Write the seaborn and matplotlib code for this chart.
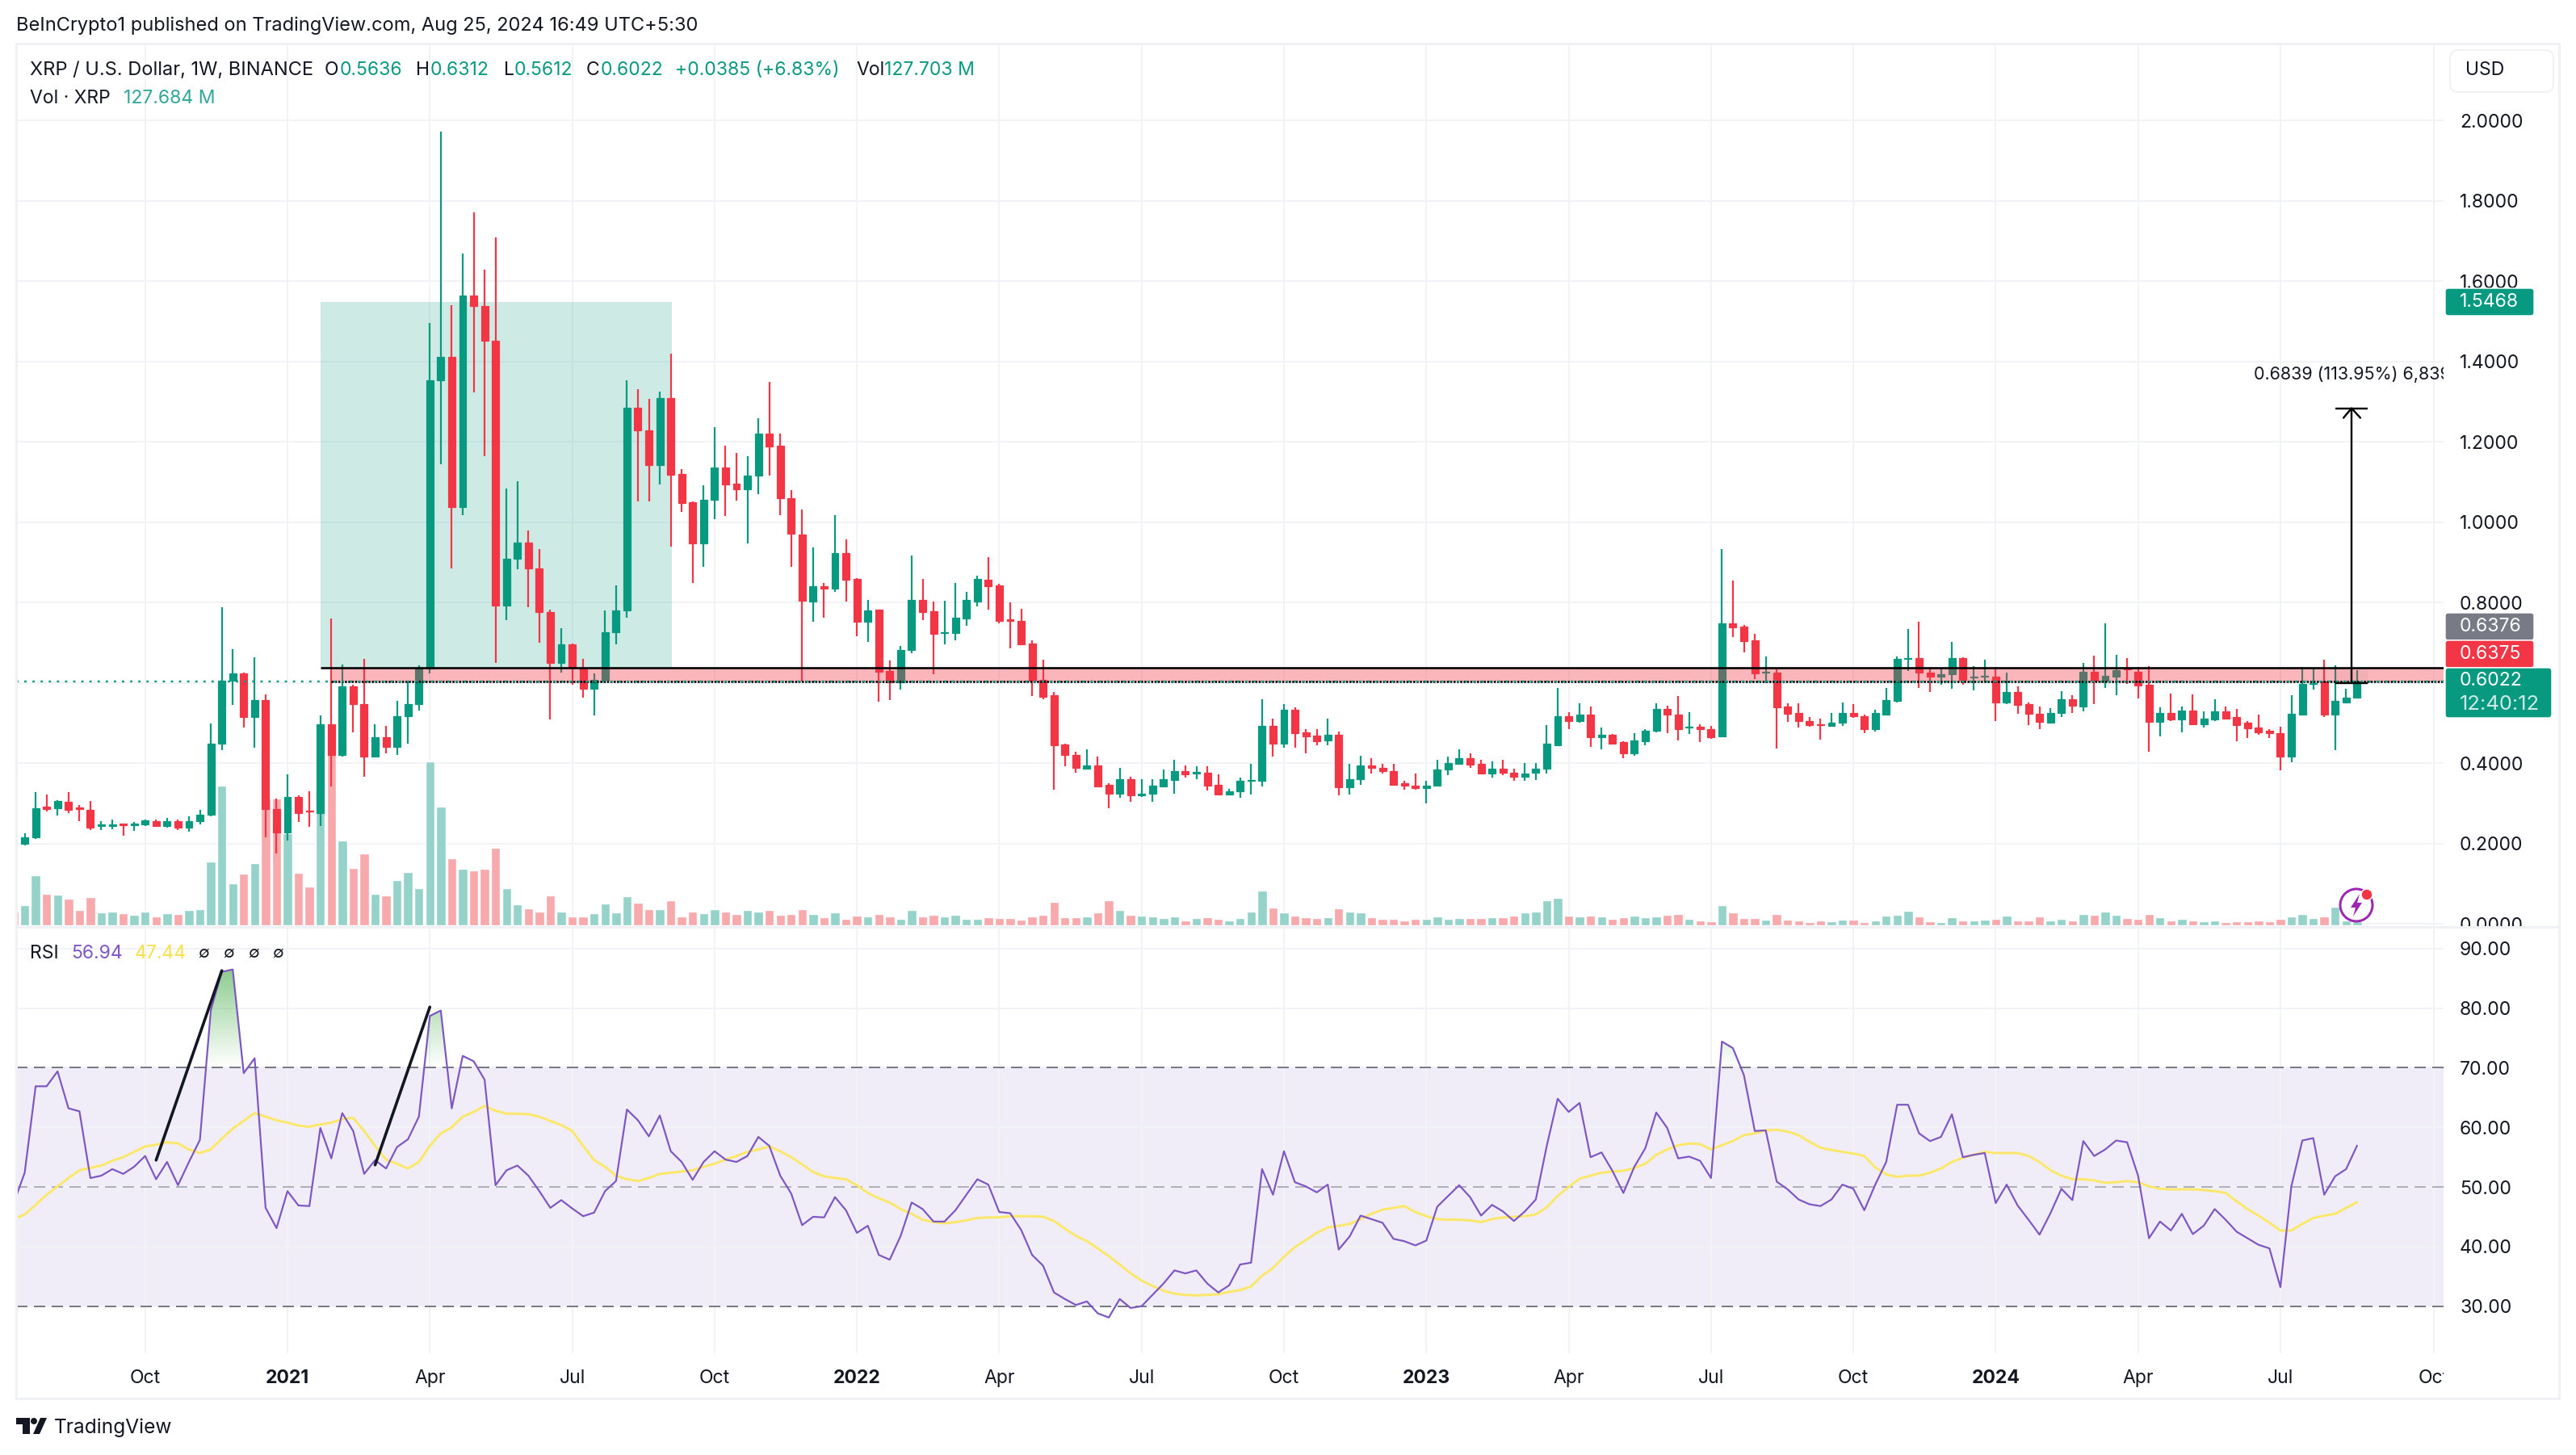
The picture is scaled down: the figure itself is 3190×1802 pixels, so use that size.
#!/usr/bin/env python3
# XRP / USD weekly chart with volume and RSI panes
import numpy as np
import pandas as pd
import matplotlib.pyplot as plt
import seaborn as sns
from matplotlib.patches import Rectangle, FancyBboxPatch, Polygon, Circle
from matplotlib.lines import Line2D
from matplotlib.path import Path
from matplotlib.transforms import IdentityTransform

#%% data
opens = [.207, .200, .215, .292, .288, .304, .289, .283, .243, .243,
    .249, .245, .248, .256, .243, .256, .240, .255, .271, .448,
    .605, .623, .515, .556, .285, .227, .315, .281, .275, .496,
    .420, .592, .547, .417, .465, .440, .516, .547, .635, 1.352,
    1.412, 1.037, 1.563, 1.537, 1.452, .792, .909, .949, .884, .775,
    .649, .696, .637, .585, .608, .725, .779, 1.285, 1.228, 1.141,
    1.309, 1.120, 1.049, .947, 1.056, 1.136, 1.096, 1.081, 1.115, 1.221,
    1.189, 1.059, .969, .803, .841, .834, .922, .859, .751, .781,
    .630, .601, .682, .807, .777, .723, .723, .759, .803, .857,
    .843, .757, .753, .698, .607, .568, .447, .421, .386, .395,
    .345, .324, .359, .319, .324, .341, .357, .379, .374, .375,
    .345, .321, .330, .355, .355, .492, .448, .532, .477, .469,
    .457, .471, .339, .359, .395, .388, .380, .350, .344, .337,
    .343, .384, .399, .413, .399, .373, .386, .376, .365, .375,
    .385, .445, .517, .504, .521, .464, .471, .452, .424, .455,
    .481, .535, .521, .488, .491, .485, .467, .747, .739, .705,
    .625, .626, .540, .524, .505, .497, .492, .500, .525, .517,
    .485, .520, .554, .659, .662, .626, .615, .622, .662, .614,
    .615, .616, .550, .576, .546, .523, .501, .524, .558, .540,
    .627, .606, .616, .636, .628, .596, .502, .525, .508, .530,
    .497, .508, .528, .514, .500, .489, .480, .475, .417, .520,
    .597, .603, .521, .551, .5636]
highs = [.208, .225, .328, .321, .308, .328, .296, .305, .256, .259,
    .250, .253, .260, .259, .264, .259, .268, .283, .499, .787,
    .684, .625, .664, .571, .312, .372, .319, .329, .519, .759,
    .645, .595, .660, .496, .493, .555, .605, .643, 1.496, 1.971,
    1.539, 1.669, 1.771, 1.629, 1.709, 1.083, 1.101, .979, .932, .781,
    .736, .698, .659, .624, .779, .843, 1.352, 1.331, 1.307, 1.325,
    1.419, 1.131, 1.052, 1.092, 1.237, 1.189, 1.172, 1.163, 1.259, 1.349,
    1.221, 1.079, 1.032, .936, .849, 1.018, .956, .861, .807, .782,
    .655, .692, .916, .859, .803, .805, .849, .827, .867, .913,
    .846, .801, .783, .706, .658, .577, .448, .429, .434, .417,
    .350, .387, .366, .359, .360, .383, .409, .395, .393, .393,
    .371, .335, .363, .399, .558, .510, .547, .538, .484, .484,
    .510, .479, .398, .419, .412, .398, .398, .356, .373, .355,
    .409, .416, .434, .424, .409, .405, .409, .385, .401, .401,
    .494, .586, .527, .548, .540, .488, .472, .455, .475, .485,
    .548, .543, .566, .527, .497, .493, .933, .854, .743, .721,
    .666, .636, .548, .549, .514, .510, .525, .550, .547, .521,
    .533, .586, .665, .733, .751, .637, .635, .701, .663, .642,
    .658, .639, .625, .590, .550, .540, .536, .579, .569, .650,
    .668, .748, .669, .662, .639, .642, .538, .572, .541, .570,
    .529, .558, .541, .534, .505, .520, .484, .490, .569, .639,
    .636, .658, .644, .584, .6312]
lows = [.203, .195, .211, .279, .269, .275, .256, .233, .233, .236,
    .219, .231, .244, .241, .240, .233, .229, .248, .268, .432,
    .544, .488, .439, .216, .175, .208, .253, .241, .244, .341,
    .416, .476, .365, .415, .424, .420, .448, .531, .623, 1.143,
    .885, 1.017, 1.323, 1.163, .649, .756, .883, .788, .699, .509,
    .625, .595, .563, .519, .599, .696, .761, 1.052, 1.052, 1.093,
    .939, 1.025, .848, .888, 1.008, 1.016, 1.053, .947, 1.069, 1.116,
    1.017, .888, .603, .751, .761, .826, .803, .716, .701, .552,
    .556, .583, .673, .755, .622, .696, .705, .741, .789, .782,
    .747, .685, .695, .567, .558, .333, .391, .375, .383, .339,
    .287, .314, .304, .316, .303, .340, .324, .363, .359, .332,
    .321, .320, .313, .321, .341, .416, .438, .439, .424, .444,
    .445, .319, .321, .345, .373, .373, .345, .333, .333, .299,
    .342, .369, .396, .388, .372, .363, .369, .355, .356, .357,
    .373, .444, .484, .500, .441, .435, .448, .412, .419, .444,
    .477, .474, .457, .472, .452, .461, .464, .714, .676, .610,
    .599, .437, .503, .488, .491, .459, .491, .492, .513, .475,
    .478, .518, .551, .629, .586, .576, .596, .584, .596, .581,
    .604, .505, .546, .522, .495, .485, .498, .514, .525, .528,
    .546, .586, .569, .597, .561, .429, .467, .505, .477, .496,
    .488, .505, .510, .455, .462, .471, .462, .382, .403, .518,
    .583, .514, .432, .549, .5612]
closes = [.205, .216, .288, .285, .305, .283, .285, .239, .248, .248,
    .245, .249, .257, .243, .256, .240, .256, .272, .448, .605,
    .623, .515, .556, .285, .227, .315, .276, .279, .496, .420,
    .592, .547, .417, .465, .440, .517, .547, .637, 1.352, 1.412,
    1.037, 1.563, 1.537, 1.451, .792, .909, .949, .884, .775, .649,
    .696, .637, .585, .608, .725, .779, 1.285, 1.228, 1.141, 1.309,
    1.117, 1.048, .947, 1.056, 1.136, 1.093, 1.081, 1.115, 1.221, 1.187,
    1.059, .971, .805, .841, .834, .922, .857, .751, .779, .628,
    .601, .682, .807, .775, .721, .726, .761, .807, .859, .841,
    .753, .754, .696, .606, .564, .445, .420, .387, .395, .341,
    .324, .359, .319, .324, .343, .359, .379, .371, .377, .343,
    .322, .330, .355, .358, .492, .448, .532, .475, .467, .455,
    .471, .339, .360, .395, .387, .379, .346, .343, .337, .344,
    .384, .401, .413, .396, .373, .386, .375, .365, .374, .386,
    .449, .517, .504, .521, .464, .471, .449, .424, .457, .481,
    .535, .520, .485, .491, .485, .465, .748, .737, .704, .623,
    .627, .538, .523, .504, .495, .495, .501, .524, .516, .485,
    .524, .556, .660, .662, .625, .615, .622, .662, .608, .616,
    .617, .550, .576, .544, .522, .502, .525, .558, .543, .627,
    .606, .617, .632, .633, .593, .502, .525, .508, .530, .497,
    .510, .528, .511, .495, .487, .477, .474, .417, .522, .598,
    .599, .521, .554, .563, .6022]
# weekly volume, millions of XRP
volumes = [415, 631, 1560, 979, 946, 830, 481, 863, 398, 432,
    365, 332, 432, 282, 365, 349, 481, 498, 1975, 4316,
    1311, 1610, 1926, 3934, 3934, 2855, 1627, 1195, 5096, 5345,
    2623, 1776, 2224, 979, 930, 1411, 1660, 1145, 5063, 3685,
    2075, 1760, 1710, 1760, 2390, 1162, 647, 531, 432, 930,
    432, 282, 282, 365, 664, 398, 896, 697, 498, 498,
    780, 282, 432, 365, 498, 415, 349, 481, 432, 481,
    315, 349, 498, 339, 250, 393, 205, 295, 268, 357,
    268, 196, 464, 268, 321, 277, 321, 196, 196, 250,
    223, 223, 170, 268, 321, 723, 250, 250, 268, 393,
    768, 464, 321, 295, 268, 223, 268, 161, 223, 250,
    196, 161, 214, 420, 1072, 545, 393, 295, 250, 214,
    250, 518, 420, 393, 250, 196, 196, 143, 196, 196,
    268, 196, 223, 223, 223, 250, 250, 295, 393, 420,
    768, 857, 295, 268, 295, 268, 196, 250, 295, 250,
    277, 321, 357, 196, 161, 116, 616, 393, 214, 214,
    170, 357, 170, 152, 89, 152, 116, 170, 170, 98,
    161, 295, 313, 455, 268, 134, 89, 250, 152, 152,
    179, 196, 295, 152, 152, 268, 161, 196, 152, 339,
    321, 420, 321, 214, 196, 357, 250, 152, 196, 152,
    116, 161, 89, 116, 116, 161, 116, 196, 277, 357,
    223, 277, 571, 161, 127.684]
rsi = [47.3, 52.4, 66.9, 66.9, 69.4, 63.2, 62.7, 51.5, 51.9, 53,
    52.2, 53.4, 55.2, 51.3, 54.2, 50.3, 54.2, 57.9, 79.7, 86.1,
    86.5, 69.1, 71.6, 46.5, 43.1, 49.3, 46.9, 46.8, 59.9, 54.8,
    62.4, 59.4, 52.2, 54.5, 53.1, 56.7, 58, 61.8, 78.7, 79.6,
    63.2, 72, 71.1, 68, 50.3, 52.8, 53.6, 51.9, 49.3, 46.5,
    47.8, 46.4, 45.1, 45.7, 49.3, 51, 63, 61.2, 58.5, 62,
    56, 54.2, 51.2, 54.2, 56, 54.6, 54.2, 55.2, 58.4, 56.9,
    51.9, 48.9, 43.6, 45, 44.9, 48.3, 46.1, 42.3, 43.5, 38.6,
    37.8, 41.8, 47.4, 46.3, 44.2, 44.2, 46.1, 48.7, 51.3, 50.4,
    45.8, 45.6, 42.8, 38.6, 36.8, 32.3, 31.2, 30.2, 30.8, 28.8,
    28.1, 31.2, 29.7, 30, 31.9, 33.8, 36, 35.5, 36, 33.8,
    32.3, 33.5, 37, 37.3, 53, 48.7, 56, 50.8, 50.1, 49.1,
    50.4, 39.5, 41.7, 45.2, 44.6, 44, 41.3, 40.9, 40.2, 41,
    46.7, 48.5, 50.3, 48.3, 45.2, 47, 45.9, 44.3, 45.9, 47.9,
    56.9, 64.8, 62.6, 64.1, 55, 55.8, 52.7, 49, 53.4, 56.5,
    62.5, 59.9, 54.8, 55.1, 54.4, 51.5, 74.4, 73.3, 68.8, 59.4,
    59.5, 50.9, 49.6, 47.9, 47.1, 46.8, 47.9, 50.4, 49.7, 46.1,
    50.4, 54.2, 63.8, 63.8, 59, 57.7, 58.4, 62.2, 55, 55.4,
    55.7, 47.3, 50.4, 46.9, 44.5, 42, 45.6, 49.7, 47.8, 57.7,
    55.2, 56.3, 57.8, 57.5, 51.9, 41.4, 44.2, 42.7, 45.5, 42.1,
    43.5, 46.3, 44.5, 42.5, 41.4, 40.3, 39.7, 33.2, 50.1, 57.8,
    58.2, 48.7, 51.8, 53, 56.94]
rsi_ma = [44.6, 45.4, 47, 48.7, 50.1, 51.5, 52.8, 53.2, 53.6, 54.4,
    55, 55.9, 56.8, 57.1, 57.5, 57.3, 56.3, 55.7, 56.3, 58.1,
    59.8, 61.1, 62.4, 61.8, 61.2, 60.8, 60.3, 60.1, 60.5, 60.8,
    61.4, 61.6, 59.4, 56.9, 54.6, 53.9, 53.1, 54.2, 56.9, 59,
    60, 61.8, 62.6, 63.6, 62.8, 62.3, 62.3, 62.2, 61.8, 61.1,
    60.4, 59.4, 56.9, 54.5, 53.4, 51.9, 51.3, 51, 51.5, 52.2,
    52.4, 52.6, 52.8, 53.4, 53.9, 54.6, 55.2, 55.9, 56.3, 56.8,
    56, 55, 53.8, 52.5, 51.8, 51.5, 51.3, 50.3, 49, 48.1,
    47.4, 46.3, 45.5, 44.5, 44.1, 43.9, 44.1, 44.4, 44.8, 44.9,
    44.9, 45.1, 45.1, 45.1, 45, 44.3, 43, 41.8, 40.9, 39.7,
    38.4, 37, 35.5, 34.3, 33.4, 32.6, 32.1, 31.9, 31.8, 31.9,
    32, 32.4, 32.7, 33.3, 35.1, 36.4, 38.3, 39.9, 41.1, 42.3,
    43.2, 43.5, 43.8, 44.6, 45.5, 46.2, 46.5, 46.8, 45.8, 45.1,
    44.6, 44.5, 44.5, 44.4, 44.1, 44.6, 44.9, 45, 45.1, 45.4,
    46.6, 48.5, 50, 51.4, 51.9, 52.4, 52.6, 52.7, 53.2, 53.9,
    55.4, 56.3, 57, 57.3, 57.2, 56.3, 57, 57.7, 58.7, 59,
    59.5, 59.6, 59.3, 58.7, 57.6, 56.6, 56.2, 55.9, 55.6, 55.2,
    53.3, 52.1, 51.7, 51.9, 51.9, 52.4, 53.1, 54.2, 54.9, 55.4,
    55.9, 55.7, 55.7, 55.7, 55.2, 54.2, 52.8, 51.9, 51.3, 51.3,
    51.1, 50.7, 50.8, 51, 50.8, 50.1, 49.7, 49.6, 49.6, 49.6,
    49.5, 49.3, 49, 47.6, 46.3, 45.2, 44, 42.7, 42.7, 43.8,
    44.8, 45.2, 45.5, 46.5, 47.44]

tick_weeks = [12, 25, 38, 51, 64, 77, 90, 103, 116, 129, 142, 155, 168, 181, 194, 207, 221]
tick_labels = ["Oct", "2021", "Apr", "Jul", "Oct", "2022", "Apr", "Jul", "Oct", "2023",
    "Apr", "Jul", "Oct", "2024", "Apr", "Jul", "Oct"]
price_ticks = [0, .2, .4, .6, .8, 1.0, 1.2, 1.4, 1.6, 1.8, 2.0]
rsi_ticks = [30, 40, 50, 60, 70, 80, 90]

zone_top, zone_bottom = .6367, .6023
last_price = .6022
profit_top, profit_bottom = 1.5468, .6376
profit_weeks = (28, 60.1)
measure_low, measure_high = .5994, 1.2833
trend_lines = [((13, 54.5), (19, 86.3)), ((33, 53.7), (38, 80.2))]

#%% colours and sizes
UP = "#089981"
DOWN = "#F23645"
TEXT = "#131722"
GRID = "#F2F3F6"
W, H = 3190, 1802
px = 0.72  # points per pixel at dpi 100

sns.set_theme(style="white")
plt.rcParams["font.family"] = ["Inter", "DejaVu Sans"]
plt.rcParams["axes.unicode_minus"] = False

weeks = np.arange(len(opens))
df = pd.DataFrame({"week": weeks, "open": opens, "high": highs, "low": lows,
    "close": closes, "volume": volumes, "rsi": rsi, "ma": rsi_ma})
df["dir"] = np.where(df["close"] >= df["open"], "up", "down")

fig = plt.figure(figsize=(W / 100, H / 100), dpi=100, facecolor="white")


def pane(top, bottom, z):
    a = fig.add_axes([20 / W, 1 - bottom / H, (3026 - 20) / W, (bottom - top) / H], zorder=z)
    for s in a.spines.values():
        s.set_visible(False)
    return a


def px_text(x, y, s, color=TEXT, size=23, ha="left", **kw):
    fig.text(x / W, 1 - y / H, s, color=color, fontsize=size * px, ha=ha, va="center", zorder=8, **kw)


def box(x0, y0, x1, y1, color, round_px=4, **kw):
    fig.add_artist(FancyBboxPatch((x0, H - y1), x1 - x0, y1 - y0,
        boxstyle=f"round,pad=0,rounding_size={round_px}", facecolor=color,
        transform=IdentityTransform(), zorder=6, **kw))


xlim = (0.22, 221.9)
price_lim = (-0.008, 2.189)
vol_lim = (-50, 27275)
rsi_lim = (22.1, 93.5)

#%% background of the price pane: grid and axis labels
ax_grid = pane(55, 1148, 0)
ax_grid.set_xlim(xlim)
ax_grid.set_ylim(price_lim)
ax_grid.set_xticks(tick_weeks)
ax_grid.set_xticklabels([])
ax_grid.yaxis.tick_right()
ax_grid.set_yticks(price_ticks)
ax_grid.set_yticklabels(["%.4f" % v for v in price_ticks], fontsize=23 * px, color=TEXT)
ax_grid.tick_params(length=0, axis="y", pad=20 * px)
ax_grid.tick_params(length=0, axis="x")
ax_grid.grid(True, color=GRID, lw=2 * px)

#%% volume
ax_vol = pane(55, 1148, 1)
ax_vol.patch.set_visible(False)
sns.barplot(data=df, x="week", y="volume", hue="dir", palette={"up": "#95D3CA", "down": "#F8A9AC"},
    native_scale=True, dodge=False, width=0.84, saturation=1, legend=False, errorbar=None, ax=ax_vol)
ax_vol.set_xlim(xlim)
ax_vol.set_ylim(vol_lim)
ax_vol.axis("off")

#%% candles and drawings
ax = pane(55, 1148, 2)
ax.patch.set_visible(False)
ax.add_patch(Rectangle((profit_weeks[0], profit_bottom), profit_weeks[1] - profit_weeks[0],
    profit_top - profit_bottom, facecolor=UP, alpha=0.2, lw=0, zorder=1))
colors = np.where(df["dir"] == "up", UP, DOWN)
ax.vlines(df["week"], df["low"], df["high"], colors=colors, lw=2.2 * px, zorder=3)
ax.bar(df["week"], (df["close"] - df["open"]).abs(), bottom=df[["open", "close"]].min(axis=1),
    width=0.66, color=colors, edgecolor=colors, lw=1.2 * px, zorder=4)
# support zone
ax.add_patch(Rectangle((29, zone_bottom), xlim[1] - 29, zone_top - zone_bottom,
    facecolor=DOWN, alpha=0.36, lw=0, zorder=5))
ax.hlines(zone_top, 28, xlim[1], color="black", lw=2.6 * px, zorder=6)
ax.hlines(zone_bottom, 29, xlim[1], color="black", lw=2.6 * px, linestyles=(0, (1.0, 0.6)), zorder=6)
ax.hlines(last_price, xlim[0], xlim[1], color=UP, lw=2.4 * px, linestyles=(0, (1.2, 3)), zorder=7)
# measure tool
ax.add_patch(Rectangle((212, measure_low), 3, zone_top - measure_low, facecolor="black", alpha=0.03, lw=0, zorder=5))
ax.vlines(213.5, measure_low, measure_high, color="black", lw=2.4 * px, zorder=8)
ax.hlines(measure_high, 212, 215, color="black", lw=2.4 * px, zorder=8)
ax.hlines(measure_low, 212, 215, color="black", lw=2.4 * px, zorder=8)
ax.plot([212.76, 213.5, 214.3], [measure_high - .024, measure_high, measure_high - .024],
    color="black", lw=2.4 * px, zorder=8)
ax.text(204.6, 1.367, "0.6839 (113.95%) 6,839", color=TEXT, fontsize=21.5 * px, va="center",
    clip_on=True, zorder=9)
ax.set_xlim(xlim)
ax.set_ylim(price_lim)
ax.axis("off")

#%% RSI pane
ax_r = pane(1149, 1676, 0)
ax_r.axhspan(30, 70, facecolor="#7E57C2", alpha=0.1, lw=0, zorder=0)
sns.lineplot(data=df, x="week", y="ma", color="#FBE86B", lw=3 * px, errorbar=None, ax=ax_r, zorder=4)
sns.lineplot(data=df, x="week", y="rsi", color="#7E57C2", lw=2.2 * px, errorbar=None, ax=ax_r, zorder=5)
ax_r.axhline(70, color="#787B86", lw=2 * px, dashes=(7, 4), zorder=2)
ax_r.axhline(50, color="#787B86", alpha=0.55, lw=2 * px, dashes=(7, 4), zorder=2)
ax_r.axhline(30, color="#787B86", lw=2 * px, dashes=(7, 4), zorder=2)
# overbought fill, fading towards the 70 line
over = ax_r.fill_between(df["week"], df["rsi"], 70, where=df["rsi"] > 70, interpolate=True, color="none")
grad = np.zeros((256, 1, 4))
grad[:, 0, :3] = (76 / 255, 175 / 255, 80 / 255)
grad[:, 0, 3] = np.linspace(0, 0.7, 256)
im = ax_r.imshow(grad, extent=(xlim[0], xlim[1], 70, 88), origin="lower", aspect="auto", zorder=3)
im.set_clip_path(Path.make_compound_path(*over.get_paths()), transform=ax_r.transData)
for (x0, y0), (x1, y1) in trend_lines:
    ax_r.plot([x0, x1], [y0, y1], color=TEXT, lw=3.6 * px, zorder=6, solid_capstyle="round")
ax_r.set_xlim(xlim)
ax_r.set_ylim(rsi_lim)
ax_r.set_xlabel("")
ax_r.set_ylabel("")
ax_r.yaxis.tick_right()
ax_r.set_yticks(rsi_ticks)
ax_r.set_yticklabels(["%.2f" % v for v in rsi_ticks], fontsize=23 * px, color=TEXT)
ax_r.set_xticks(tick_weeks)
ax_r.set_xticklabels(tick_labels, fontsize=23 * px, color=TEXT)
for lbl in ax_r.get_xticklabels():
    if lbl.get_text().isdigit():
        lbl.set_fontweight("bold")
ax_r.tick_params(length=0, axis="y", pad=20 * px)
ax_r.tick_params(length=0, axis="x", pad=20 * px)
ax_r.grid(True, color=GRID, lw=2 * px, zorder=1)
ax_r.set_axisbelow(True)

#%% frame and cover strips for the cut labels
fig.add_artist(Rectangle((3030, H - 1162), 136, 13, facecolor="white", lw=0, transform=IdentityTransform(), zorder=5))
fig.add_artist(Rectangle((3026, H - 1725), 20, 40, facecolor="white", lw=0, transform=IdentityTransform(), zorder=5))
fig.add_artist(Rectangle((20, H - 1732), 3149, 1732 - 54, facecolor="none", edgecolor="#EFF1F4", lw=3 * px,
    transform=IdentityTransform(), zorder=5))
fig.add_artist(Line2D([20, 3169], [H - 1148, H - 1148], color="#EFF1F4", lw=3 * px,
    transform=IdentityTransform(), zorder=5))

#%% header texts
px_text(20, 32, "BeInCrypto1 published on TradingView.com, Aug 25, 2024 16:49 UTC+5:30", size=23.6)
px_text(37, 87, "XRP / U.S. Dollar, 1W, BINANCE", size=23.6)
for x, s, c in [(402, "O", TEXT), (421, "0.5636", UP), (515, "H", TEXT), (533, "0.6312", UP),
                (624, "L", TEXT), (637, "0.5612", UP), (726, "C", TEXT), (744, "0.6022", UP),
                (836, "+0.0385 (+6.83%)", UP), (1060, "Vol", TEXT), (1095, "127.703 M", UP)]:
    px_text(x, 87, s, color=c)
px_text(37, 122, "Vol · XRP")
px_text(153, 122, "127.684 M", color="#2FA899")
px_text(37, 1181, "RSI")
px_text(88, 1181, "56.94", color="#7E57C2")
px_text(167, 1181, "47.44", color="#FBE04B")
for x in (252, 283, 314, 344):
    px_text(x, 1181, "∅", ha="center", size=20)

#%% USD button and price tags
box(3034, 62, 3162, 114, "white", round_px=10, edgecolor="#EFF1F4", lw=2 * px)
px_text(3053, 87, "USD")
box(3028, 357, 3138, 391, UP)
px_text(3046, 374, "1.5468", color="white")
box(3028, 759, 3138, 793, "#787B86")
px_text(3046, 776, "0.6376", color="white")
box(3028, 793, 3138, 827, DOWN)
px_text(3046, 810, "0.6375", color="white")
box(3028, 827, 3160, 889, UP)
px_text(3046, 843, "0.6022", color="white")
px_text(3046, 872, "12:40:12", color="#CDEBE6", size=25.5)

#%% lightning icon
fig.add_artist(Circle((2918, H - 1121), 20, facecolor="none", edgecolor="#9C27B0", lw=3 * px,
    transform=IdentityTransform(), zorder=6))
bolt = [(2922, 1107), (2911, 1124), (2917, 1124), (2914, 1135), (2925, 1118), (2919, 1118)]
fig.add_artist(Polygon([(x, H - y) for x, y in bolt], closed=True, facecolor="#9C27B0", lw=0,
    transform=IdentityTransform(), zorder=6))
fig.add_artist(Circle((2931, H - 1108), 7, facecolor=DOWN, edgecolor="white", lw=1.5 * px,
    transform=IdentityTransform(), zorder=7))

#%% TradingView logo
logo_t = [(20, 1756), (37, 1756), (37, 1776), (28, 1776), (28, 1764), (20, 1764)]
logo_v = [(50, 1756), (58, 1756), (49, 1776), (41, 1776)]
for shape in (logo_t, logo_v):
    fig.add_artist(Polygon([(x, H - y) for x, y in shape], closed=True, facecolor=TEXT, lw=0,
        transform=IdentityTransform(), zorder=6))
fig.add_artist(Circle((42, H - 1760), 4, facecolor=TEXT, lw=0, transform=IdentityTransform(), zorder=6))
px_text(67, 1768, "TradingView", size=24.5)

plt.savefig("out.png", dpi=100, facecolor="white")
